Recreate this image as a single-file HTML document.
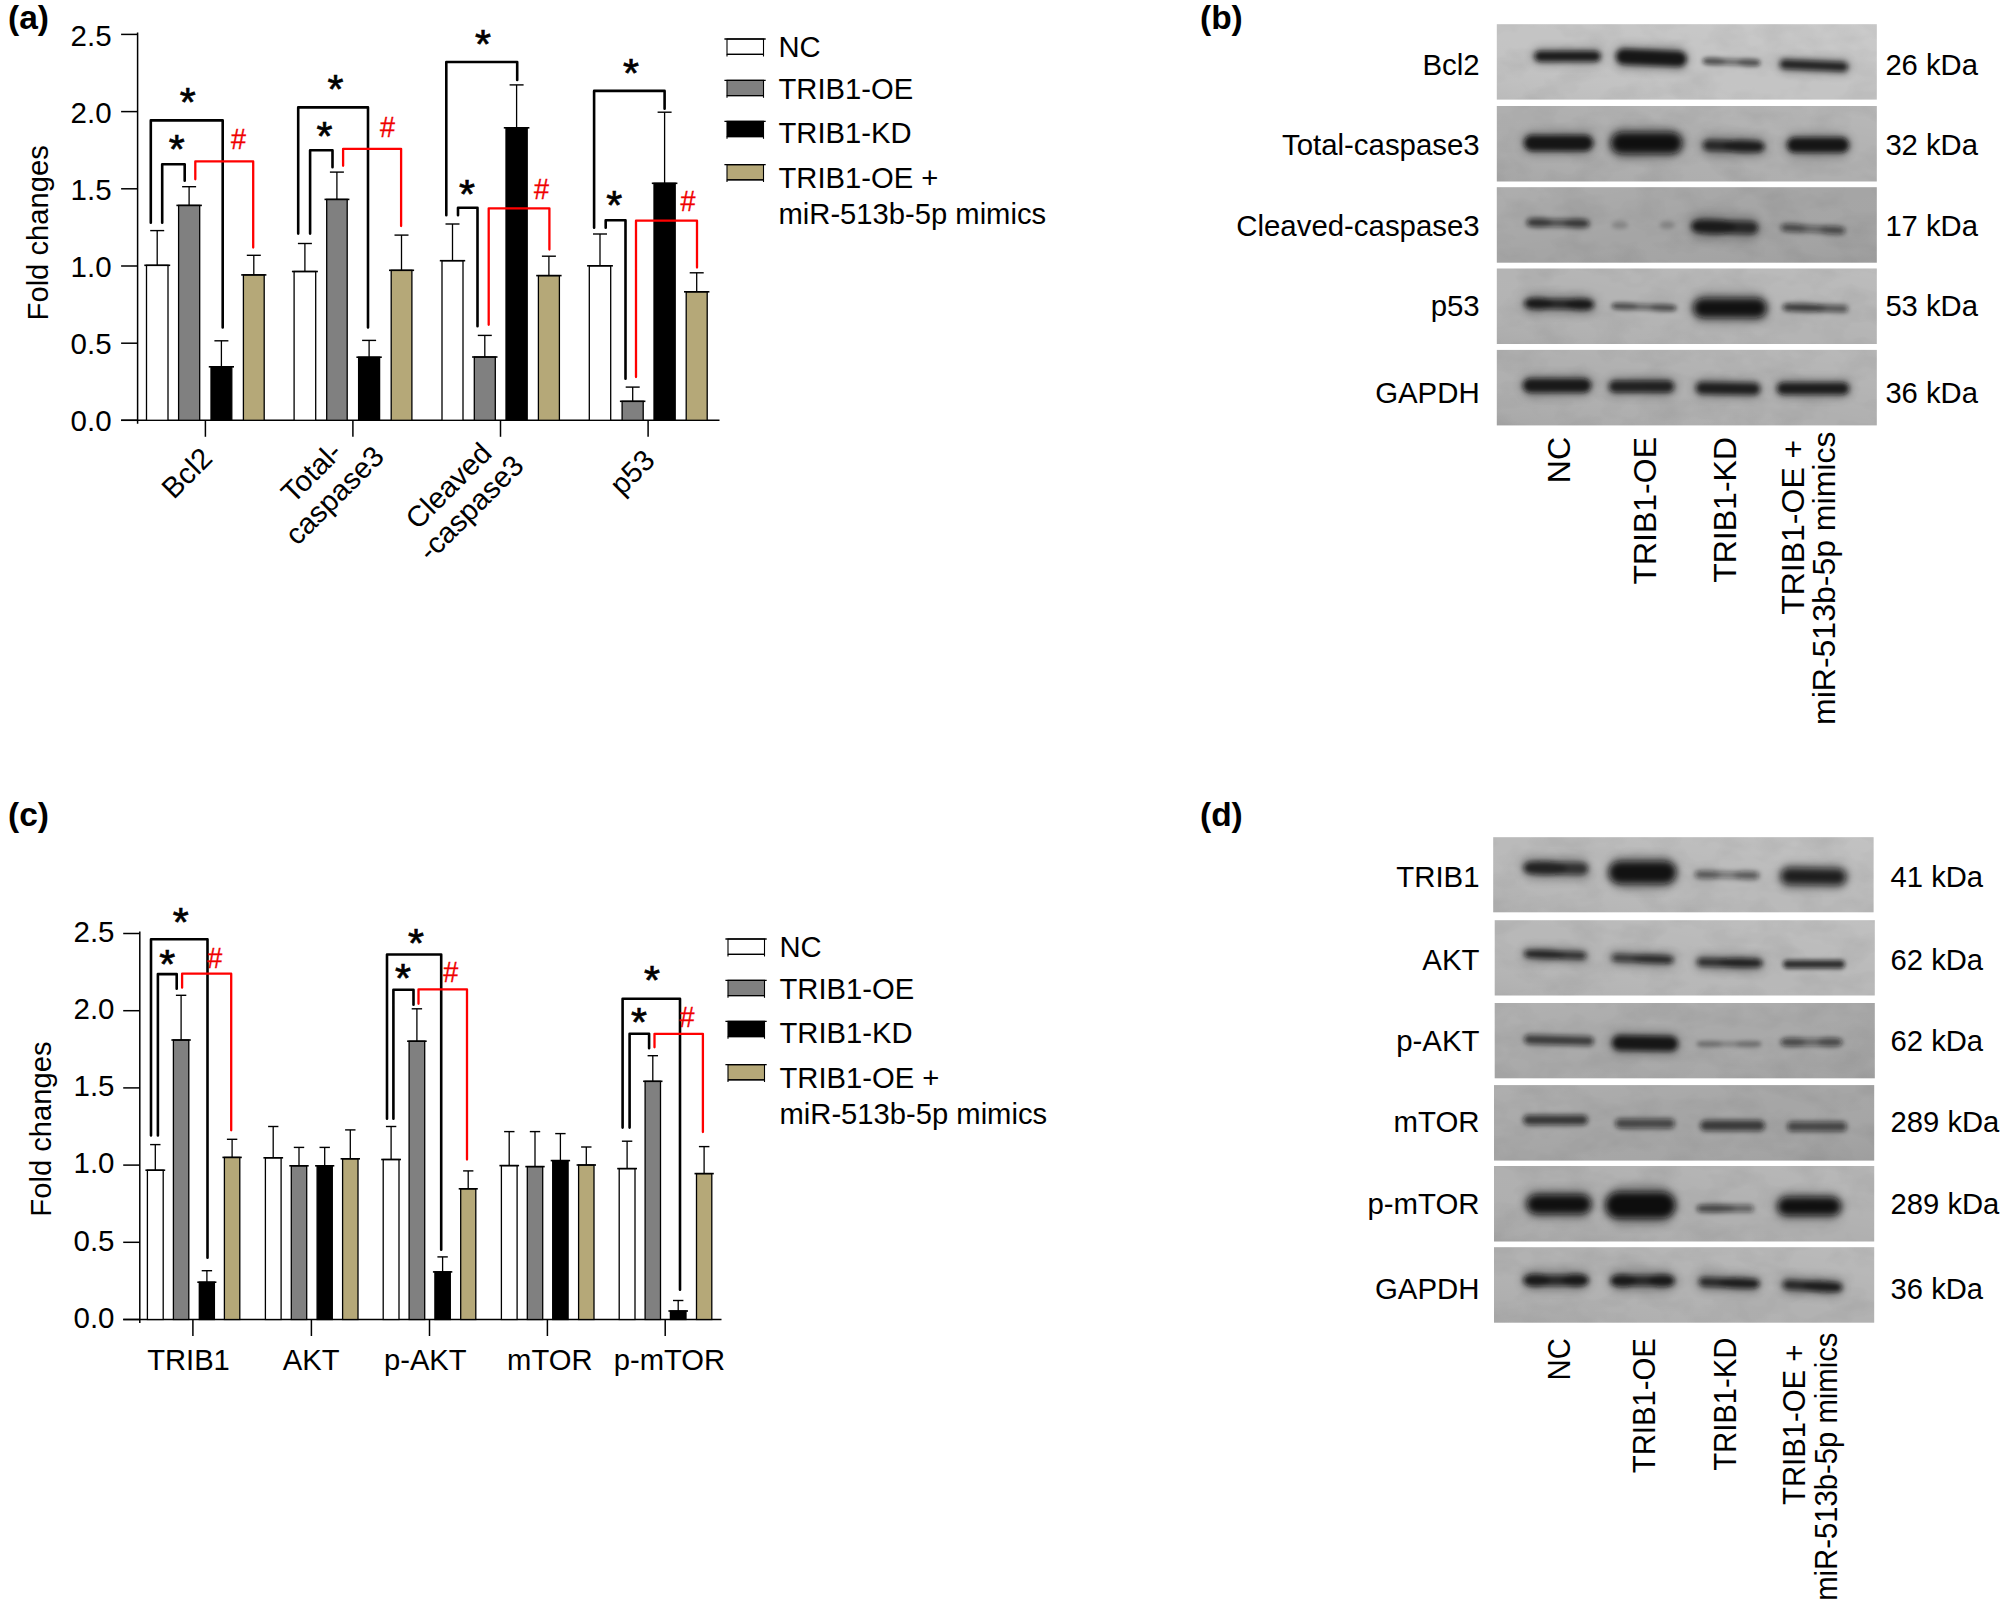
<!DOCTYPE html>
<html><head><meta charset="utf-8"><title>Figure</title>
<style>html,body{margin:0;padding:0;background:#fff}svg{display:block}</style></head>
<body>
<svg width="2003" height="1604" viewBox="0 0 2003 1604" style="font-family:&quot;Liberation Sans&quot;,sans-serif">
<defs>
<filter id="b1" x="-20%" y="-200%" width="140%" height="500%"><feGaussianBlur stdDeviation="2.3"/></filter>
<filter id="b2" x="-20%" y="-150%" width="140%" height="400%"><feGaussianBlur stdDeviation="2.9"/></filter>
<filter id="b3" x="-20%" y="-100%" width="140%" height="300%"><feGaussianBlur stdDeviation="3.5"/></filter>
<filter id="b4" x="-30%" y="-150%" width="160%" height="400%"><feGaussianBlur stdDeviation="4.6"/></filter>
<filter id="noise" x="0" y="0" width="100%" height="100%"><feTurbulence type="fractalNoise" baseFrequency="0.025 0.04" numOctaves="3" seed="7" result="n"/><feColorMatrix in="n" type="matrix" values="0 0 0 0 0  0 0 0 0 0  0 0 0 0 0  1.6 0 0 0 -0.62"/><feComposite in2="SourceGraphic" operator="in"/></filter>
<linearGradient id="gr" x1="0" y1="1" x2="1" y2="0"><stop offset="0" stop-color="#000" stop-opacity="0.05"/><stop offset="0.5" stop-color="#fff" stop-opacity="0"/><stop offset="1" stop-color="#fff" stop-opacity="0.12"/></linearGradient>
<linearGradient id="gl" x1="1" y1="1" x2="0" y2="0"><stop offset="0" stop-color="#000" stop-opacity="0.05"/><stop offset="0.5" stop-color="#fff" stop-opacity="0"/><stop offset="1" stop-color="#fff" stop-opacity="0.10"/></linearGradient>
</defs>
<rect width="2003" height="1604" fill="#fff"/>
<text x="8.0" y="28.8" font-size="33.5" text-anchor="start" fill="#000" font-weight="bold">(a)</text>
<text x="1200.0" y="29.0" font-size="33.5" text-anchor="start" fill="#000" font-weight="bold">(b)</text>
<text x="8.0" y="826.0" font-size="33.5" text-anchor="start" fill="#000" font-weight="bold">(c)</text>
<text x="1200.0" y="826.0" font-size="33.5" text-anchor="start" fill="#000" font-weight="bold">(d)</text>
<line x1="137.6" y1="32.4" x2="137.6" y2="423.8" stroke="#000" stroke-width="1.5" stroke-linecap="butt"/>
<line x1="121.1" y1="420.3" x2="719.5" y2="420.3" stroke="#000" stroke-width="1.5" stroke-linecap="butt"/>
<line x1="121.1" y1="34.4" x2="137.6" y2="34.4" stroke="#000" stroke-width="1.5" stroke-linecap="butt"/>
<text x="111.6" y="45.5" font-size="29.5" text-anchor="end" fill="#000" font-weight="normal">2.5</text>
<line x1="121.1" y1="111.6" x2="137.6" y2="111.6" stroke="#000" stroke-width="1.5" stroke-linecap="butt"/>
<text x="111.6" y="122.7" font-size="29.5" text-anchor="end" fill="#000" font-weight="normal">2.0</text>
<line x1="121.1" y1="188.8" x2="137.6" y2="188.8" stroke="#000" stroke-width="1.5" stroke-linecap="butt"/>
<text x="111.6" y="199.9" font-size="29.5" text-anchor="end" fill="#000" font-weight="normal">1.5</text>
<line x1="121.1" y1="266.0" x2="137.6" y2="266.0" stroke="#000" stroke-width="1.5" stroke-linecap="butt"/>
<text x="111.6" y="277.1" font-size="29.5" text-anchor="end" fill="#000" font-weight="normal">1.0</text>
<line x1="121.1" y1="343.2" x2="137.6" y2="343.2" stroke="#000" stroke-width="1.5" stroke-linecap="butt"/>
<text x="111.6" y="354.3" font-size="29.5" text-anchor="end" fill="#000" font-weight="normal">0.5</text>
<line x1="121.1" y1="420.3" x2="137.6" y2="420.3" stroke="#000" stroke-width="1.5" stroke-linecap="butt"/>
<text x="111.6" y="431.4" font-size="29.5" text-anchor="end" fill="#000" font-weight="normal">0.0</text>
<line x1="205.4" y1="420.3" x2="205.4" y2="436.8" stroke="#000" stroke-width="1.5" stroke-linecap="butt"/>
<line x1="352.9" y1="420.3" x2="352.9" y2="436.8" stroke="#000" stroke-width="1.5" stroke-linecap="butt"/>
<line x1="500.5" y1="420.3" x2="500.5" y2="436.8" stroke="#000" stroke-width="1.5" stroke-linecap="butt"/>
<line x1="648.1" y1="420.3" x2="648.1" y2="436.8" stroke="#000" stroke-width="1.5" stroke-linecap="butt"/>
<text x="48.0" y="232.8" font-size="29.2" text-anchor="middle" fill="#000" font-weight="normal" transform="rotate(-90 48.0 232.8)">Fold changes</text>
<line x1="157.2" y1="230.6" x2="157.2" y2="265.3" stroke="#000" stroke-width="1.3" stroke-linecap="butt"/>
<line x1="150.2" y1="230.6" x2="164.2" y2="230.6" stroke="#000" stroke-width="1.4" stroke-linecap="butt"/>
<rect x="146.5" y="265.3" width="21.5" height="155.0" fill="#ffffff" stroke="#000" stroke-width="1.3"/>
<line x1="144.3" y1="265.3" x2="170.2" y2="265.3" stroke="#000" stroke-width="1.6" stroke-linecap="butt"/>
<line x1="189.1" y1="186.7" x2="189.1" y2="205.4" stroke="#000" stroke-width="1.3" stroke-linecap="butt"/>
<line x1="182.1" y1="186.7" x2="196.1" y2="186.7" stroke="#000" stroke-width="1.4" stroke-linecap="butt"/>
<rect x="178.6" y="205.4" width="21.1" height="214.9" fill="#808080" stroke="#000" stroke-width="1.3"/>
<line x1="176.4" y1="205.4" x2="201.9" y2="205.4" stroke="#000" stroke-width="1.6" stroke-linecap="butt"/>
<line x1="221.4" y1="340.8" x2="221.4" y2="366.8" stroke="#000" stroke-width="1.3" stroke-linecap="butt"/>
<line x1="214.4" y1="340.8" x2="228.4" y2="340.8" stroke="#000" stroke-width="1.4" stroke-linecap="butt"/>
<rect x="211.0" y="366.8" width="20.8" height="53.5" fill="#000000" stroke="#000" stroke-width="1.3"/>
<line x1="208.8" y1="366.8" x2="234.0" y2="366.8" stroke="#000" stroke-width="1.6" stroke-linecap="butt"/>
<line x1="253.8" y1="255.3" x2="253.8" y2="274.9" stroke="#000" stroke-width="1.3" stroke-linecap="butt"/>
<line x1="246.8" y1="255.3" x2="260.8" y2="255.3" stroke="#000" stroke-width="1.4" stroke-linecap="butt"/>
<rect x="243.4" y="274.9" width="20.8" height="145.4" fill="#b5a878" stroke="#000" stroke-width="1.3"/>
<line x1="241.2" y1="274.9" x2="266.4" y2="274.9" stroke="#000" stroke-width="1.6" stroke-linecap="butt"/>
<line x1="304.9" y1="243.5" x2="304.9" y2="271.5" stroke="#000" stroke-width="1.3" stroke-linecap="butt"/>
<line x1="297.9" y1="243.5" x2="311.9" y2="243.5" stroke="#000" stroke-width="1.4" stroke-linecap="butt"/>
<rect x="294.1" y="271.5" width="21.6" height="148.8" fill="#ffffff" stroke="#000" stroke-width="1.3"/>
<line x1="291.9" y1="271.5" x2="317.9" y2="271.5" stroke="#000" stroke-width="1.6" stroke-linecap="butt"/>
<line x1="336.9" y1="172.1" x2="336.9" y2="199.4" stroke="#000" stroke-width="1.3" stroke-linecap="butt"/>
<line x1="329.9" y1="172.1" x2="343.9" y2="172.1" stroke="#000" stroke-width="1.4" stroke-linecap="butt"/>
<rect x="326.7" y="199.4" width="20.5" height="220.9" fill="#808080" stroke="#000" stroke-width="1.3"/>
<line x1="324.5" y1="199.4" x2="349.4" y2="199.4" stroke="#000" stroke-width="1.6" stroke-linecap="butt"/>
<line x1="369.1" y1="340.4" x2="369.1" y2="357.2" stroke="#000" stroke-width="1.3" stroke-linecap="butt"/>
<line x1="362.1" y1="340.4" x2="376.1" y2="340.4" stroke="#000" stroke-width="1.4" stroke-linecap="butt"/>
<rect x="358.6" y="357.2" width="21.0" height="63.1" fill="#000000" stroke="#000" stroke-width="1.3"/>
<line x1="356.4" y1="357.2" x2="381.8" y2="357.2" stroke="#000" stroke-width="1.6" stroke-linecap="butt"/>
<line x1="401.5" y1="235.1" x2="401.5" y2="270.3" stroke="#000" stroke-width="1.3" stroke-linecap="butt"/>
<line x1="394.5" y1="235.1" x2="408.5" y2="235.1" stroke="#000" stroke-width="1.4" stroke-linecap="butt"/>
<rect x="391.2" y="270.3" width="20.7" height="150.0" fill="#b5a878" stroke="#000" stroke-width="1.3"/>
<line x1="389.0" y1="270.3" x2="414.1" y2="270.3" stroke="#000" stroke-width="1.6" stroke-linecap="butt"/>
<line x1="452.5" y1="224.0" x2="452.5" y2="260.7" stroke="#000" stroke-width="1.3" stroke-linecap="butt"/>
<line x1="445.5" y1="224.0" x2="459.5" y2="224.0" stroke="#000" stroke-width="1.4" stroke-linecap="butt"/>
<rect x="442.0" y="260.7" width="21.0" height="159.6" fill="#ffffff" stroke="#000" stroke-width="1.3"/>
<line x1="439.8" y1="260.7" x2="465.2" y2="260.7" stroke="#000" stroke-width="1.6" stroke-linecap="butt"/>
<line x1="484.8" y1="335.4" x2="484.8" y2="357.0" stroke="#000" stroke-width="1.3" stroke-linecap="butt"/>
<line x1="477.8" y1="335.4" x2="491.8" y2="335.4" stroke="#000" stroke-width="1.4" stroke-linecap="butt"/>
<rect x="474.3" y="357.0" width="21.0" height="63.3" fill="#808080" stroke="#000" stroke-width="1.3"/>
<line x1="472.1" y1="357.0" x2="497.5" y2="357.0" stroke="#000" stroke-width="1.6" stroke-linecap="butt"/>
<line x1="516.6" y1="84.9" x2="516.6" y2="127.8" stroke="#000" stroke-width="1.3" stroke-linecap="butt"/>
<line x1="509.6" y1="84.9" x2="523.6" y2="84.9" stroke="#000" stroke-width="1.4" stroke-linecap="butt"/>
<rect x="506.0" y="127.8" width="21.2" height="292.5" fill="#000000" stroke="#000" stroke-width="1.3"/>
<line x1="503.8" y1="127.8" x2="529.4" y2="127.8" stroke="#000" stroke-width="1.6" stroke-linecap="butt"/>
<line x1="548.9" y1="256.2" x2="548.9" y2="275.6" stroke="#000" stroke-width="1.3" stroke-linecap="butt"/>
<line x1="541.9" y1="256.2" x2="555.9" y2="256.2" stroke="#000" stroke-width="1.4" stroke-linecap="butt"/>
<rect x="538.4" y="275.6" width="21.0" height="144.7" fill="#b5a878" stroke="#000" stroke-width="1.3"/>
<line x1="536.2" y1="275.6" x2="561.6" y2="275.6" stroke="#000" stroke-width="1.6" stroke-linecap="butt"/>
<line x1="600.0" y1="234.0" x2="600.0" y2="265.8" stroke="#000" stroke-width="1.3" stroke-linecap="butt"/>
<line x1="593.0" y1="234.0" x2="607.0" y2="234.0" stroke="#000" stroke-width="1.4" stroke-linecap="butt"/>
<rect x="589.3" y="265.8" width="21.4" height="154.5" fill="#ffffff" stroke="#000" stroke-width="1.3"/>
<line x1="587.1" y1="265.8" x2="612.9" y2="265.8" stroke="#000" stroke-width="1.6" stroke-linecap="butt"/>
<line x1="632.7" y1="387.1" x2="632.7" y2="401.3" stroke="#000" stroke-width="1.3" stroke-linecap="butt"/>
<line x1="625.7" y1="387.1" x2="639.7" y2="387.1" stroke="#000" stroke-width="1.4" stroke-linecap="butt"/>
<rect x="622.1" y="401.3" width="21.1" height="19.0" fill="#808080" stroke="#000" stroke-width="1.3"/>
<line x1="619.9" y1="401.3" x2="645.4" y2="401.3" stroke="#000" stroke-width="1.6" stroke-linecap="butt"/>
<line x1="664.6" y1="112.2" x2="664.6" y2="183.3" stroke="#000" stroke-width="1.3" stroke-linecap="butt"/>
<line x1="657.6" y1="112.2" x2="671.6" y2="112.2" stroke="#000" stroke-width="1.4" stroke-linecap="butt"/>
<rect x="654.0" y="183.3" width="21.2" height="237.0" fill="#000000" stroke="#000" stroke-width="1.3"/>
<line x1="651.8" y1="183.3" x2="677.4" y2="183.3" stroke="#000" stroke-width="1.6" stroke-linecap="butt"/>
<line x1="696.7" y1="272.8" x2="696.7" y2="291.8" stroke="#000" stroke-width="1.3" stroke-linecap="butt"/>
<line x1="689.7" y1="272.8" x2="703.7" y2="272.8" stroke="#000" stroke-width="1.4" stroke-linecap="butt"/>
<rect x="686.2" y="291.8" width="21.0" height="128.5" fill="#b5a878" stroke="#000" stroke-width="1.3"/>
<line x1="684.0" y1="291.8" x2="709.4" y2="291.8" stroke="#000" stroke-width="1.6" stroke-linecap="butt"/>
<path d="M150.8 222.7 V120.4 H222.7 V327.4" fill="none" stroke="#000" stroke-width="2.6" stroke-linejoin="round" stroke-linecap="round"/>
<path d="M162.2 222.7 V164.2 H184.7 V180.7" fill="none" stroke="#000" stroke-width="2.6" stroke-linejoin="round" stroke-linecap="round"/>
<path d="M195.3 179.3 V161.4 H253.2 V247.6" fill="none" stroke="#f00" stroke-width="2.3" stroke-linejoin="round" stroke-linecap="round"/>
<text x="187.7" y="115.9" font-size="41" text-anchor="middle" fill="#000" font-weight="normal" stroke="#000" stroke-width="0.7">*</text>
<text x="176.7" y="162.8" font-size="41" text-anchor="middle" fill="#000" font-weight="normal" stroke="#000" stroke-width="0.7">*</text>
<text font-size="30" text-anchor="middle" fill="#f00000" stroke="#f00000" stroke-width="0.35" transform="translate(238.6 149.4) scale(0.9,1)">#</text>
<path d="M298.2 233.6 V107.4 H368.0 V327.4" fill="none" stroke="#000" stroke-width="2.6" stroke-linejoin="round" stroke-linecap="round"/>
<path d="M310.1 233.6 V150.2 H332.5 V167.3" fill="none" stroke="#000" stroke-width="2.6" stroke-linejoin="round" stroke-linecap="round"/>
<path d="M343.1 165.8 V148.8 H401.1 V226.0" fill="none" stroke="#f00" stroke-width="2.3" stroke-linejoin="round" stroke-linecap="round"/>
<text x="335.5" y="102.5" font-size="41" text-anchor="middle" fill="#000" font-weight="normal" stroke="#000" stroke-width="0.7">*</text>
<text x="324.5" y="150.4" font-size="41" text-anchor="middle" fill="#000" font-weight="normal" stroke="#000" stroke-width="0.7">*</text>
<text font-size="30" text-anchor="middle" fill="#f00000" stroke="#f00000" stroke-width="0.35" transform="translate(387.4 137.0) scale(0.9,1)">#</text>
<path d="M446.3 215.3 V62.0 H517.2 V80.0" fill="none" stroke="#000" stroke-width="2.6" stroke-linejoin="round" stroke-linecap="round"/>
<path d="M458.0 215.3 V207.7 H477.5 V326.2" fill="none" stroke="#000" stroke-width="2.6" stroke-linejoin="round" stroke-linecap="round"/>
<path d="M488.7 324.8 V208.3 H549.4 V249.6" fill="none" stroke="#f00" stroke-width="2.3" stroke-linejoin="round" stroke-linecap="round"/>
<text x="483.0" y="57.6" font-size="41" text-anchor="middle" fill="#000" font-weight="normal" stroke="#000" stroke-width="0.7">*</text>
<text x="467.0" y="207.6" font-size="41" text-anchor="middle" fill="#000" font-weight="normal" stroke="#000" stroke-width="0.7">*</text>
<text font-size="30" text-anchor="middle" fill="#f00000" stroke="#f00000" stroke-width="0.35" transform="translate(541.4 198.9) scale(0.9,1)">#</text>
<path d="M594.1 227.7 V90.9 H664.6 V108.8" fill="none" stroke="#000" stroke-width="2.6" stroke-linejoin="round" stroke-linecap="round"/>
<path d="M605.7 227.7 V220.3 H625.5 V378.7" fill="none" stroke="#000" stroke-width="2.6" stroke-linejoin="round" stroke-linecap="round"/>
<path d="M636.0 377.1 V220.7 H697.0 V267.6" fill="none" stroke="#f00" stroke-width="2.3" stroke-linejoin="round" stroke-linecap="round"/>
<text x="631.0" y="86.6" font-size="41" text-anchor="middle" fill="#000" font-weight="normal" stroke="#000" stroke-width="0.7">*</text>
<text x="614.3" y="219.3" font-size="41" text-anchor="middle" fill="#000" font-weight="normal" stroke="#000" stroke-width="0.7">*</text>
<text font-size="30" text-anchor="middle" fill="#f00000" stroke="#f00000" stroke-width="0.35" transform="translate(688.0 210.9) scale(0.9,1)">#</text>
<text x="214.0" y="460.0" font-size="29.2" text-anchor="end" fill="#000" font-weight="normal" transform="rotate(-45 214.0 460.0)">Bcl2</text>
<text x="343.7" y="454.0" font-size="29.2" text-anchor="end" fill="#000" font-weight="normal" transform="rotate(-45 343.7 454.0)">Total-</text>
<text x="385.7" y="458.2" font-size="29.2" text-anchor="end" fill="#000" font-weight="normal" transform="rotate(-45 385.7 458.2)">caspase3</text>
<text x="493.5" y="455.0" font-size="29.2" text-anchor="end" fill="#000" font-weight="normal" transform="rotate(-45 493.5 455.0)">Cleaved</text>
<text x="525.5" y="467.4" font-size="29.2" text-anchor="end" fill="#000" font-weight="normal" transform="rotate(-45 525.5 467.4)">-caspase3</text>
<text x="656.5" y="462.0" font-size="29.2" text-anchor="end" fill="#000" font-weight="normal" transform="rotate(-45 656.5 462.0)">p53</text>
<rect x="727.0" y="39.0" width="36.5" height="15.3" fill="#ffffff" stroke="#000" stroke-width="1.1"/>
<line x1="724.4" y1="39.0" x2="765.7" y2="39.0" stroke="#000" stroke-width="1.3" stroke-linecap="butt"/>
<line x1="727.0" y1="54.3" x2="763.5" y2="54.3" stroke="#000" stroke-width="1.3" stroke-linecap="butt"/>
<line x1="727.0" y1="54.3" x2="727.0" y2="56.5" stroke="#000" stroke-width="1.1" stroke-linecap="butt"/>
<line x1="763.5" y1="54.3" x2="763.5" y2="56.5" stroke="#000" stroke-width="1.1" stroke-linecap="butt"/>
<rect x="727.0" y="80.3" width="36.5" height="15.3" fill="#808080" stroke="#000" stroke-width="1.1"/>
<line x1="724.4" y1="80.3" x2="765.7" y2="80.3" stroke="#000" stroke-width="1.3" stroke-linecap="butt"/>
<line x1="727.0" y1="95.6" x2="763.5" y2="95.6" stroke="#000" stroke-width="1.3" stroke-linecap="butt"/>
<line x1="727.0" y1="95.6" x2="727.0" y2="97.8" stroke="#000" stroke-width="1.1" stroke-linecap="butt"/>
<line x1="763.5" y1="95.6" x2="763.5" y2="97.8" stroke="#000" stroke-width="1.1" stroke-linecap="butt"/>
<rect x="727.0" y="121.3" width="36.5" height="15.3" fill="#000000" stroke="#000" stroke-width="1.1"/>
<line x1="724.4" y1="121.3" x2="765.7" y2="121.3" stroke="#000" stroke-width="1.3" stroke-linecap="butt"/>
<line x1="727.0" y1="136.6" x2="763.5" y2="136.6" stroke="#000" stroke-width="1.3" stroke-linecap="butt"/>
<line x1="727.0" y1="136.6" x2="727.0" y2="138.8" stroke="#000" stroke-width="1.1" stroke-linecap="butt"/>
<line x1="763.5" y1="136.6" x2="763.5" y2="138.8" stroke="#000" stroke-width="1.1" stroke-linecap="butt"/>
<rect x="727.0" y="164.7" width="36.5" height="15.1" fill="#b5a878" stroke="#000" stroke-width="1.1"/>
<line x1="724.4" y1="164.7" x2="765.7" y2="164.7" stroke="#000" stroke-width="1.3" stroke-linecap="butt"/>
<line x1="727.0" y1="179.8" x2="763.5" y2="179.8" stroke="#000" stroke-width="1.3" stroke-linecap="butt"/>
<line x1="727.0" y1="179.8" x2="727.0" y2="182.0" stroke="#000" stroke-width="1.1" stroke-linecap="butt"/>
<line x1="763.5" y1="179.8" x2="763.5" y2="182.0" stroke="#000" stroke-width="1.1" stroke-linecap="butt"/>
<text x="778.5" y="57.3" font-size="29.2" text-anchor="start" fill="#000" font-weight="normal">NC</text>
<text x="778.5" y="98.9" font-size="29.2" text-anchor="start" fill="#000" font-weight="normal">TRIB1-OE</text>
<text x="778.5" y="143.2" font-size="29.2" text-anchor="start" fill="#000" font-weight="normal">TRIB1-KD</text>
<text x="778.5" y="187.7" font-size="29.2" text-anchor="start" fill="#000" font-weight="normal">TRIB1-OE +</text>
<text x="778.5" y="224.3" font-size="29.2" text-anchor="start" fill="#000" font-weight="normal">miR-513b-5p mimics</text>
<line x1="139.8" y1="931.5" x2="139.8" y2="1323.0" stroke="#000" stroke-width="1.5" stroke-linecap="butt"/>
<line x1="123.2" y1="1319.5" x2="721.5" y2="1319.5" stroke="#000" stroke-width="1.5" stroke-linecap="butt"/>
<line x1="123.2" y1="933.5" x2="139.8" y2="933.5" stroke="#000" stroke-width="1.5" stroke-linecap="butt"/>
<text x="114.5" y="941.7" font-size="29.5" text-anchor="end" fill="#000" font-weight="normal">2.5</text>
<line x1="123.2" y1="1010.7" x2="139.8" y2="1010.7" stroke="#000" stroke-width="1.5" stroke-linecap="butt"/>
<text x="114.5" y="1018.9" font-size="29.5" text-anchor="end" fill="#000" font-weight="normal">2.0</text>
<line x1="123.2" y1="1087.9" x2="139.8" y2="1087.9" stroke="#000" stroke-width="1.5" stroke-linecap="butt"/>
<text x="114.5" y="1096.1" font-size="29.5" text-anchor="end" fill="#000" font-weight="normal">1.5</text>
<line x1="123.2" y1="1165.1" x2="139.8" y2="1165.1" stroke="#000" stroke-width="1.5" stroke-linecap="butt"/>
<text x="114.5" y="1173.3" font-size="29.5" text-anchor="end" fill="#000" font-weight="normal">1.0</text>
<line x1="123.2" y1="1242.3" x2="139.8" y2="1242.3" stroke="#000" stroke-width="1.5" stroke-linecap="butt"/>
<text x="114.5" y="1250.5" font-size="29.5" text-anchor="end" fill="#000" font-weight="normal">0.5</text>
<line x1="123.2" y1="1319.5" x2="139.8" y2="1319.5" stroke="#000" stroke-width="1.5" stroke-linecap="butt"/>
<text x="114.5" y="1327.7" font-size="29.5" text-anchor="end" fill="#000" font-weight="normal">0.0</text>
<line x1="192.9" y1="1319.5" x2="192.9" y2="1336.0" stroke="#000" stroke-width="1.5" stroke-linecap="butt"/>
<line x1="311.4" y1="1319.5" x2="311.4" y2="1336.0" stroke="#000" stroke-width="1.5" stroke-linecap="butt"/>
<line x1="429.5" y1="1319.5" x2="429.5" y2="1336.0" stroke="#000" stroke-width="1.5" stroke-linecap="butt"/>
<line x1="547.4" y1="1319.5" x2="547.4" y2="1336.0" stroke="#000" stroke-width="1.5" stroke-linecap="butt"/>
<line x1="665.2" y1="1319.5" x2="665.2" y2="1336.0" stroke="#000" stroke-width="1.5" stroke-linecap="butt"/>
<text x="51.0" y="1129.0" font-size="29.2" text-anchor="middle" fill="#000" font-weight="normal" transform="rotate(-90 51.0 1129.0)">Fold changes</text>
<line x1="155.3" y1="1144.6" x2="155.3" y2="1170.2" stroke="#000" stroke-width="1.3" stroke-linecap="butt"/>
<line x1="150.1" y1="1144.6" x2="160.5" y2="1144.6" stroke="#000" stroke-width="1.4" stroke-linecap="butt"/>
<rect x="147.4" y="1170.2" width="15.8" height="149.3" fill="#ffffff" stroke="#000" stroke-width="1.3"/>
<line x1="145.4" y1="1170.2" x2="165.2" y2="1170.2" stroke="#000" stroke-width="1.6" stroke-linecap="butt"/>
<line x1="181.1" y1="995.3" x2="181.1" y2="1040.0" stroke="#000" stroke-width="1.3" stroke-linecap="butt"/>
<line x1="175.9" y1="995.3" x2="186.3" y2="995.3" stroke="#000" stroke-width="1.4" stroke-linecap="butt"/>
<rect x="173.4" y="1040.0" width="15.4" height="279.5" fill="#808080" stroke="#000" stroke-width="1.3"/>
<line x1="171.4" y1="1040.0" x2="190.8" y2="1040.0" stroke="#000" stroke-width="1.6" stroke-linecap="butt"/>
<line x1="206.9" y1="1270.7" x2="206.9" y2="1282.2" stroke="#000" stroke-width="1.3" stroke-linecap="butt"/>
<line x1="201.7" y1="1270.7" x2="212.1" y2="1270.7" stroke="#000" stroke-width="1.4" stroke-linecap="butt"/>
<rect x="199.3" y="1282.2" width="15.1" height="37.3" fill="#000000" stroke="#000" stroke-width="1.3"/>
<line x1="197.3" y1="1282.2" x2="216.4" y2="1282.2" stroke="#000" stroke-width="1.6" stroke-linecap="butt"/>
<line x1="232.1" y1="1139.3" x2="232.1" y2="1157.4" stroke="#000" stroke-width="1.3" stroke-linecap="butt"/>
<line x1="226.9" y1="1139.3" x2="237.3" y2="1139.3" stroke="#000" stroke-width="1.4" stroke-linecap="butt"/>
<rect x="224.4" y="1157.4" width="15.4" height="162.1" fill="#b5a878" stroke="#000" stroke-width="1.3"/>
<line x1="222.4" y1="1157.4" x2="241.8" y2="1157.4" stroke="#000" stroke-width="1.6" stroke-linecap="butt"/>
<line x1="273.2" y1="1126.5" x2="273.2" y2="1157.8" stroke="#000" stroke-width="1.3" stroke-linecap="butt"/>
<line x1="268.1" y1="1126.5" x2="278.4" y2="1126.5" stroke="#000" stroke-width="1.4" stroke-linecap="butt"/>
<rect x="265.4" y="1157.8" width="15.7" height="161.7" fill="#ffffff" stroke="#000" stroke-width="1.3"/>
<line x1="263.4" y1="1157.8" x2="283.1" y2="1157.8" stroke="#000" stroke-width="1.6" stroke-linecap="butt"/>
<line x1="299.0" y1="1147.4" x2="299.0" y2="1165.8" stroke="#000" stroke-width="1.3" stroke-linecap="butt"/>
<line x1="293.8" y1="1147.4" x2="304.2" y2="1147.4" stroke="#000" stroke-width="1.4" stroke-linecap="butt"/>
<rect x="291.3" y="1165.8" width="15.4" height="153.7" fill="#808080" stroke="#000" stroke-width="1.3"/>
<line x1="289.3" y1="1165.8" x2="308.7" y2="1165.8" stroke="#000" stroke-width="1.6" stroke-linecap="butt"/>
<line x1="324.7" y1="1147.4" x2="324.7" y2="1165.8" stroke="#000" stroke-width="1.3" stroke-linecap="butt"/>
<line x1="319.5" y1="1147.4" x2="329.9" y2="1147.4" stroke="#000" stroke-width="1.4" stroke-linecap="butt"/>
<rect x="317.1" y="1165.8" width="15.2" height="153.7" fill="#000000" stroke="#000" stroke-width="1.3"/>
<line x1="315.1" y1="1165.8" x2="334.3" y2="1165.8" stroke="#000" stroke-width="1.6" stroke-linecap="butt"/>
<line x1="350.3" y1="1129.9" x2="350.3" y2="1158.8" stroke="#000" stroke-width="1.3" stroke-linecap="butt"/>
<line x1="345.1" y1="1129.9" x2="355.5" y2="1129.9" stroke="#000" stroke-width="1.4" stroke-linecap="butt"/>
<rect x="342.6" y="1158.8" width="15.4" height="160.7" fill="#b5a878" stroke="#000" stroke-width="1.3"/>
<line x1="340.6" y1="1158.8" x2="360.0" y2="1158.8" stroke="#000" stroke-width="1.6" stroke-linecap="butt"/>
<line x1="391.1" y1="1126.5" x2="391.1" y2="1159.5" stroke="#000" stroke-width="1.3" stroke-linecap="butt"/>
<line x1="385.9" y1="1126.5" x2="396.3" y2="1126.5" stroke="#000" stroke-width="1.4" stroke-linecap="butt"/>
<rect x="383.2" y="1159.5" width="15.8" height="160.0" fill="#ffffff" stroke="#000" stroke-width="1.3"/>
<line x1="381.2" y1="1159.5" x2="401.0" y2="1159.5" stroke="#000" stroke-width="1.6" stroke-linecap="butt"/>
<line x1="416.9" y1="1008.8" x2="416.9" y2="1041.2" stroke="#000" stroke-width="1.3" stroke-linecap="butt"/>
<line x1="411.7" y1="1008.8" x2="422.1" y2="1008.8" stroke="#000" stroke-width="1.4" stroke-linecap="butt"/>
<rect x="409.1" y="1041.2" width="15.6" height="278.3" fill="#808080" stroke="#000" stroke-width="1.3"/>
<line x1="407.1" y1="1041.2" x2="426.7" y2="1041.2" stroke="#000" stroke-width="1.6" stroke-linecap="butt"/>
<line x1="442.6" y1="1256.9" x2="442.6" y2="1271.9" stroke="#000" stroke-width="1.3" stroke-linecap="butt"/>
<line x1="437.4" y1="1256.9" x2="447.8" y2="1256.9" stroke="#000" stroke-width="1.4" stroke-linecap="butt"/>
<rect x="434.9" y="1271.9" width="15.4" height="47.6" fill="#000000" stroke="#000" stroke-width="1.3"/>
<line x1="432.9" y1="1271.9" x2="452.3" y2="1271.9" stroke="#000" stroke-width="1.6" stroke-linecap="butt"/>
<line x1="468.2" y1="1170.9" x2="468.2" y2="1188.8" stroke="#000" stroke-width="1.3" stroke-linecap="butt"/>
<line x1="463.1" y1="1170.9" x2="473.4" y2="1170.9" stroke="#000" stroke-width="1.4" stroke-linecap="butt"/>
<rect x="460.7" y="1188.8" width="15.1" height="130.7" fill="#b5a878" stroke="#000" stroke-width="1.3"/>
<line x1="458.7" y1="1188.8" x2="477.8" y2="1188.8" stroke="#000" stroke-width="1.6" stroke-linecap="butt"/>
<line x1="509.2" y1="1131.6" x2="509.2" y2="1165.6" stroke="#000" stroke-width="1.3" stroke-linecap="butt"/>
<line x1="504.1" y1="1131.6" x2="514.5" y2="1131.6" stroke="#000" stroke-width="1.4" stroke-linecap="butt"/>
<rect x="501.4" y="1165.6" width="15.7" height="153.9" fill="#ffffff" stroke="#000" stroke-width="1.3"/>
<line x1="499.4" y1="1165.6" x2="519.1" y2="1165.6" stroke="#000" stroke-width="1.6" stroke-linecap="butt"/>
<line x1="535.0" y1="1131.6" x2="535.0" y2="1166.6" stroke="#000" stroke-width="1.3" stroke-linecap="butt"/>
<line x1="529.8" y1="1131.6" x2="540.2" y2="1131.6" stroke="#000" stroke-width="1.4" stroke-linecap="butt"/>
<rect x="527.3" y="1166.6" width="15.4" height="152.9" fill="#808080" stroke="#000" stroke-width="1.3"/>
<line x1="525.3" y1="1166.6" x2="544.7" y2="1166.6" stroke="#000" stroke-width="1.6" stroke-linecap="butt"/>
<line x1="560.4" y1="1133.6" x2="560.4" y2="1160.6" stroke="#000" stroke-width="1.3" stroke-linecap="butt"/>
<line x1="555.2" y1="1133.6" x2="565.6" y2="1133.6" stroke="#000" stroke-width="1.4" stroke-linecap="butt"/>
<rect x="552.7" y="1160.6" width="15.4" height="158.9" fill="#000000" stroke="#000" stroke-width="1.3"/>
<line x1="550.7" y1="1160.6" x2="570.1" y2="1160.6" stroke="#000" stroke-width="1.6" stroke-linecap="butt"/>
<line x1="586.3" y1="1147.0" x2="586.3" y2="1165.0" stroke="#000" stroke-width="1.3" stroke-linecap="butt"/>
<line x1="581.1" y1="1147.0" x2="591.5" y2="1147.0" stroke="#000" stroke-width="1.4" stroke-linecap="butt"/>
<rect x="578.6" y="1165.0" width="15.4" height="154.5" fill="#b5a878" stroke="#000" stroke-width="1.3"/>
<line x1="576.6" y1="1165.0" x2="596.0" y2="1165.0" stroke="#000" stroke-width="1.6" stroke-linecap="butt"/>
<line x1="627.1" y1="1141.2" x2="627.1" y2="1168.6" stroke="#000" stroke-width="1.3" stroke-linecap="butt"/>
<line x1="621.9" y1="1141.2" x2="632.3" y2="1141.2" stroke="#000" stroke-width="1.4" stroke-linecap="butt"/>
<rect x="619.2" y="1168.6" width="15.8" height="150.9" fill="#ffffff" stroke="#000" stroke-width="1.3"/>
<line x1="617.2" y1="1168.6" x2="637.0" y2="1168.6" stroke="#000" stroke-width="1.6" stroke-linecap="butt"/>
<line x1="652.8" y1="1055.7" x2="652.8" y2="1081.3" stroke="#000" stroke-width="1.3" stroke-linecap="butt"/>
<line x1="647.6" y1="1055.7" x2="658.0" y2="1055.7" stroke="#000" stroke-width="1.4" stroke-linecap="butt"/>
<rect x="645.1" y="1081.3" width="15.4" height="238.2" fill="#808080" stroke="#000" stroke-width="1.3"/>
<line x1="643.1" y1="1081.3" x2="662.5" y2="1081.3" stroke="#000" stroke-width="1.6" stroke-linecap="butt"/>
<line x1="678.2" y1="1300.5" x2="678.2" y2="1311.0" stroke="#000" stroke-width="1.3" stroke-linecap="butt"/>
<line x1="673.0" y1="1300.5" x2="683.4" y2="1300.5" stroke="#000" stroke-width="1.4" stroke-linecap="butt"/>
<rect x="670.4" y="1311.0" width="15.6" height="8.5" fill="#000000" stroke="#000" stroke-width="1.3"/>
<line x1="668.4" y1="1311.0" x2="688.0" y2="1311.0" stroke="#000" stroke-width="1.6" stroke-linecap="butt"/>
<line x1="704.1" y1="1146.6" x2="704.1" y2="1173.6" stroke="#000" stroke-width="1.3" stroke-linecap="butt"/>
<line x1="698.9" y1="1146.6" x2="709.4" y2="1146.6" stroke="#000" stroke-width="1.4" stroke-linecap="butt"/>
<rect x="696.5" y="1173.6" width="15.3" height="145.9" fill="#b5a878" stroke="#000" stroke-width="1.3"/>
<line x1="694.5" y1="1173.6" x2="713.8" y2="1173.6" stroke="#000" stroke-width="1.6" stroke-linecap="butt"/>
<path d="M151.0 1135.5 V939.2 H207.5 V1257.7" fill="none" stroke="#000" stroke-width="2.6" stroke-linejoin="round" stroke-linecap="round"/>
<path d="M157.9 1135.5 V974.1 H176.7 V988.7" fill="none" stroke="#000" stroke-width="2.6" stroke-linejoin="round" stroke-linecap="round"/>
<path d="M182.1 987.7 V973.7 H231.2 V1130.3" fill="none" stroke="#f00" stroke-width="2.3" stroke-linejoin="round" stroke-linecap="round"/>
<text x="180.7" y="936.4" font-size="41" text-anchor="middle" fill="#000" font-weight="normal" stroke="#000" stroke-width="0.7">*</text>
<text x="167.3" y="978.3" font-size="41" text-anchor="middle" fill="#000" font-weight="normal" stroke="#000" stroke-width="0.7">*</text>
<text font-size="30" text-anchor="middle" fill="#f00000" stroke="#f00000" stroke-width="0.35" transform="translate(214.7 967.8) scale(0.9,1)">#</text>
<path d="M387.0 1118.8 V954.5 H441.2 V1249.7" fill="none" stroke="#000" stroke-width="2.6" stroke-linejoin="round" stroke-linecap="round"/>
<path d="M393.4 1118.8 V989.8 H413.5 V1004.8" fill="none" stroke="#000" stroke-width="2.6" stroke-linejoin="round" stroke-linecap="round"/>
<path d="M418.5 1003.8 V989.4 H467.0 V1159.5" fill="none" stroke="#f00" stroke-width="2.3" stroke-linejoin="round" stroke-linecap="round"/>
<text x="415.9" y="956.5" font-size="41" text-anchor="middle" fill="#000" font-weight="normal" stroke="#000" stroke-width="0.7">*</text>
<text x="402.9" y="991.5" font-size="41" text-anchor="middle" fill="#000" font-weight="normal" stroke="#000" stroke-width="0.7">*</text>
<text font-size="30" text-anchor="middle" fill="#f00000" stroke="#f00000" stroke-width="0.35" transform="translate(450.8 982.4) scale(0.9,1)">#</text>
<path d="M622.6 1127.6 V998.8 H680.0 V1289.8" fill="none" stroke="#000" stroke-width="2.6" stroke-linejoin="round" stroke-linecap="round"/>
<path d="M629.6 1127.6 V1033.8 H649.1 V1048.3" fill="none" stroke="#000" stroke-width="2.6" stroke-linejoin="round" stroke-linecap="round"/>
<path d="M654.5 1047.3 V1033.8 H702.9 V1132.0" fill="none" stroke="#f00" stroke-width="2.3" stroke-linejoin="round" stroke-linecap="round"/>
<text x="651.9" y="994.1" font-size="41" text-anchor="middle" fill="#000" font-weight="normal" stroke="#000" stroke-width="0.7">*</text>
<text x="638.9" y="1036.4" font-size="41" text-anchor="middle" fill="#000" font-weight="normal" stroke="#000" stroke-width="0.7">*</text>
<text font-size="30" text-anchor="middle" fill="#f00000" stroke="#f00000" stroke-width="0.35" transform="translate(686.9 1027.0) scale(0.9,1)">#</text>
<text x="188.5" y="1369.8" font-size="29.2" text-anchor="middle" fill="#000" font-weight="normal">TRIB1</text>
<text x="311.2" y="1369.8" font-size="29.2" text-anchor="middle" fill="#000" font-weight="normal">AKT</text>
<text x="425.3" y="1369.8" font-size="29.2" text-anchor="middle" fill="#000" font-weight="normal">p-AKT</text>
<text x="549.8" y="1369.8" font-size="29.2" text-anchor="middle" fill="#000" font-weight="normal">mTOR</text>
<text x="669.4" y="1369.8" font-size="29.2" text-anchor="middle" fill="#000" font-weight="normal">p-mTOR</text>
<rect x="728.0" y="939.0" width="36.5" height="15.3" fill="#ffffff" stroke="#000" stroke-width="1.1"/>
<line x1="725.4" y1="939.0" x2="766.7" y2="939.0" stroke="#000" stroke-width="1.3" stroke-linecap="butt"/>
<line x1="728.0" y1="954.3" x2="764.5" y2="954.3" stroke="#000" stroke-width="1.3" stroke-linecap="butt"/>
<line x1="728.0" y1="954.3" x2="728.0" y2="956.5" stroke="#000" stroke-width="1.1" stroke-linecap="butt"/>
<line x1="764.5" y1="954.3" x2="764.5" y2="956.5" stroke="#000" stroke-width="1.1" stroke-linecap="butt"/>
<rect x="728.0" y="980.3" width="36.5" height="15.3" fill="#808080" stroke="#000" stroke-width="1.1"/>
<line x1="725.4" y1="980.3" x2="766.7" y2="980.3" stroke="#000" stroke-width="1.3" stroke-linecap="butt"/>
<line x1="728.0" y1="995.6" x2="764.5" y2="995.6" stroke="#000" stroke-width="1.3" stroke-linecap="butt"/>
<line x1="728.0" y1="995.6" x2="728.0" y2="997.8" stroke="#000" stroke-width="1.1" stroke-linecap="butt"/>
<line x1="764.5" y1="995.6" x2="764.5" y2="997.8" stroke="#000" stroke-width="1.1" stroke-linecap="butt"/>
<rect x="728.0" y="1021.3" width="36.5" height="15.3" fill="#000000" stroke="#000" stroke-width="1.1"/>
<line x1="725.4" y1="1021.3" x2="766.7" y2="1021.3" stroke="#000" stroke-width="1.3" stroke-linecap="butt"/>
<line x1="728.0" y1="1036.6" x2="764.5" y2="1036.6" stroke="#000" stroke-width="1.3" stroke-linecap="butt"/>
<line x1="728.0" y1="1036.6" x2="728.0" y2="1038.8" stroke="#000" stroke-width="1.1" stroke-linecap="butt"/>
<line x1="764.5" y1="1036.6" x2="764.5" y2="1038.8" stroke="#000" stroke-width="1.1" stroke-linecap="butt"/>
<rect x="728.0" y="1064.7" width="36.5" height="15.1" fill="#b5a878" stroke="#000" stroke-width="1.1"/>
<line x1="725.4" y1="1064.7" x2="766.7" y2="1064.7" stroke="#000" stroke-width="1.3" stroke-linecap="butt"/>
<line x1="728.0" y1="1079.8" x2="764.5" y2="1079.8" stroke="#000" stroke-width="1.3" stroke-linecap="butt"/>
<line x1="728.0" y1="1079.8" x2="728.0" y2="1082.0" stroke="#000" stroke-width="1.1" stroke-linecap="butt"/>
<line x1="764.5" y1="1079.8" x2="764.5" y2="1082.0" stroke="#000" stroke-width="1.1" stroke-linecap="butt"/>
<text x="779.5" y="957.3" font-size="29.2" text-anchor="start" fill="#000" font-weight="normal">NC</text>
<text x="779.5" y="998.9" font-size="29.2" text-anchor="start" fill="#000" font-weight="normal">TRIB1-OE</text>
<text x="779.5" y="1043.2" font-size="29.2" text-anchor="start" fill="#000" font-weight="normal">TRIB1-KD</text>
<text x="779.5" y="1087.7" font-size="29.2" text-anchor="start" fill="#000" font-weight="normal">TRIB1-OE +</text>
<text x="779.5" y="1124.3" font-size="29.2" text-anchor="start" fill="#000" font-weight="normal">miR-513b-5p mimics</text>
<rect x="1496.8" y="24.2" width="380.0" height="75.4" fill="#c4c4c4"/>
<rect x="1496.8" y="24.2" width="380.0" height="75.4" fill="url(#gr)"/>
<rect x="1496.8" y="24.2" width="380.0" height="75.4" fill="#000" filter="url(#noise)" opacity="0.07"/>
<rect x="1532.5" y="48.2" width="70.1" height="15.8" rx="7.9" fill="#101010" opacity="0.3" filter="url(#b4)" transform="rotate(0 1567.5 56.1)"/>
<g filter="url(#b2)" transform="rotate(0 1567.5 56.1)" fill="#101010">
<rect x="1534.5" y="50.9" width="66.1" height="10.5" rx="5.2" opacity="0.90"/>
</g>
<rect x="1614.0" y="46.2" width="74.6" height="23.2" rx="11.6" fill="#101010" opacity="0.3" filter="url(#b4)" transform="rotate(2.5 1651.3 57.8)"/>
<g filter="url(#b2)" transform="rotate(2.5 1651.3 57.8)" fill="#101010">
<rect x="1616.0" y="50.0" width="70.6" height="15.5" rx="7.8" opacity="0.93"/>
</g>
<g filter="url(#b1)" transform="rotate(2 1731.5 62.0)" fill="#101010">
<rect x="1703.0" y="58.8" width="57.0" height="6.4" rx="3.2" opacity="0.50"/>
<ellipse cx="1713.8" cy="62.0" rx="11.8" ry="4.0" opacity="0.34"/>
<ellipse cx="1749.2" cy="62.0" rx="11.8" ry="4.0" opacity="0.34"/>
</g>
<rect x="1777.8" y="58.5" width="72.2" height="14.2" rx="7.1" fill="#101010" opacity="0.3" filter="url(#b4)" transform="rotate(2.5 1813.9 65.6)"/>
<g filter="url(#b2)" transform="rotate(2.5 1813.9 65.6)" fill="#101010">
<rect x="1779.8" y="60.8" width="68.2" height="9.5" rx="4.8" opacity="0.85"/>
</g>
<rect x="1496.8" y="106.0" width="380.0" height="75.5" fill="#afafaf"/>
<rect x="1496.8" y="106.0" width="380.0" height="75.5" fill="url(#gr)"/>
<rect x="1496.8" y="106.0" width="380.0" height="75.5" fill="#000" filter="url(#noise)" opacity="0.07"/>
<rect x="1522.0" y="131.2" width="73.0" height="23.5" rx="11.8" fill="#101010" opacity="0.3" filter="url(#b4)" transform="rotate(0 1558.5 143.0)"/>
<g filter="url(#b2)" transform="rotate(0 1558.5 143.0)" fill="#101010">
<rect x="1524.0" y="135.2" width="69.0" height="15.7" rx="7.8" opacity="0.93"/>
</g>
<rect x="1609.0" y="127.2" width="75.0" height="31.5" rx="15.8" fill="#101010" opacity="0.3" filter="url(#b4)" transform="rotate(0 1646.5 143.0)"/>
<g filter="url(#b3)" transform="rotate(0 1646.5 143.0)" fill="#101010">
<rect x="1611.0" y="132.5" width="71.0" height="21.0" rx="10.5" opacity="0.98"/>
</g>
<rect x="1701.0" y="135.9" width="65.0" height="20.2" rx="10.1" fill="#101010" opacity="0.3" filter="url(#b4)" transform="rotate(1.5 1733.5 146.0)"/>
<g filter="url(#b2)" transform="rotate(1.5 1733.5 146.0)" fill="#101010">
<rect x="1703.0" y="140.6" width="61.0" height="10.8" rx="5.4" opacity="0.78"/>
<ellipse cx="1744.2" cy="146.0" rx="20.8" ry="6.8" opacity="0.46"/>
</g>
<rect x="1785.0" y="133.8" width="66.0" height="22.5" rx="11.2" fill="#101010" opacity="0.3" filter="url(#b4)" transform="rotate(0 1818.0 145.0)"/>
<g filter="url(#b2)" transform="rotate(0 1818.0 145.0)" fill="#101010">
<rect x="1787.0" y="137.5" width="62.0" height="15.0" rx="7.5" opacity="0.93"/>
</g>
<rect x="1496.8" y="187.2" width="380.0" height="75.5" fill="#a5a5a5"/>
<rect x="1496.8" y="187.2" width="380.0" height="75.5" fill="url(#gl)"/>
<rect x="1496.8" y="187.2" width="380.0" height="75.5" fill="#000" filter="url(#noise)" opacity="0.07"/>
<g filter="url(#b2)" transform="rotate(1 1558.0 223.0)" fill="#101010">
<rect x="1527.0" y="219.0" width="62.0" height="8.0" rx="4.0" opacity="0.60"/>
<ellipse cx="1538.8" cy="223.0" rx="12.8" ry="5.0" opacity="0.41"/>
<ellipse cx="1577.2" cy="223.0" rx="12.8" ry="5.0" opacity="0.41"/>
</g>
<g filter="url(#b1)" transform="rotate(0 1642.5 225.0)" fill="#101010">
<ellipse cx="1619.8" cy="225.0" rx="8.5" ry="4.0" opacity="0.20"/>
<ellipse cx="1667.2" cy="225.0" rx="7.8" ry="4.0" opacity="0.20"/>
</g>
<rect x="1689.7" y="215.4" width="70.3" height="23.2" rx="11.6" fill="#101010" opacity="0.3" filter="url(#b4)" transform="rotate(1.5 1724.8 227.0)"/>
<g filter="url(#b2)" transform="rotate(1.5 1724.8 227.0)" fill="#101010">
<rect x="1691.7" y="220.8" width="66.3" height="12.4" rx="6.2" opacity="0.78"/>
<ellipse cx="1713.2" cy="227.0" rx="22.5" ry="7.8" opacity="0.46"/>
</g>
<g filter="url(#b2)" transform="rotate(3 1813.0 229.0)" fill="#101010">
<rect x="1781.0" y="225.4" width="64.0" height="7.2" rx="3.6" opacity="0.50"/>
<ellipse cx="1793.2" cy="229.0" rx="13.2" ry="4.5" opacity="0.34"/>
<ellipse cx="1832.8" cy="229.0" rx="13.2" ry="4.5" opacity="0.34"/>
</g>
<rect x="1496.8" y="268.5" width="380.0" height="75.5" fill="#b4b4b4"/>
<rect x="1496.8" y="268.5" width="380.0" height="75.5" fill="url(#gr)"/>
<rect x="1496.8" y="268.5" width="380.0" height="75.5" fill="#000" filter="url(#noise)" opacity="0.07"/>
<rect x="1523.0" y="294.6" width="72.3" height="18.8" rx="9.4" fill="#101010" opacity="0.3" filter="url(#b4)" transform="rotate(1 1559.2 304.0)"/>
<g filter="url(#b2)" transform="rotate(1 1559.2 304.0)" fill="#101010">
<rect x="1525.0" y="299.0" width="68.3" height="10.0" rx="5.0" opacity="0.80"/>
<ellipse cx="1538.1" cy="304.0" rx="14.1" ry="6.2" opacity="0.55"/>
<ellipse cx="1580.2" cy="304.0" rx="14.1" ry="6.2" opacity="0.55"/>
</g>
<g filter="url(#b1)" transform="rotate(2 1644.0 307.0)" fill="#101010">
<rect x="1612.0" y="304.0" width="64.0" height="6.0" rx="3.0" opacity="0.50"/>
<ellipse cx="1624.2" cy="307.0" rx="13.2" ry="3.8" opacity="0.34"/>
<ellipse cx="1663.8" cy="307.0" rx="13.2" ry="3.8" opacity="0.34"/>
</g>
<rect x="1691.5" y="293.8" width="77.0" height="28.5" rx="14.2" fill="#101010" opacity="0.3" filter="url(#b4)" transform="rotate(0 1730.0 308.0)"/>
<g filter="url(#b3)" transform="rotate(0 1730.0 308.0)" fill="#101010">
<rect x="1693.5" y="298.5" width="73.0" height="19.0" rx="9.5" opacity="0.97"/>
</g>
<g filter="url(#b2)" transform="rotate(1.5 1815.5 308.0)" fill="#101010">
<rect x="1783.0" y="304.4" width="65.0" height="7.2" rx="3.6" opacity="0.66"/>
<ellipse cx="1804.1" cy="308.0" rx="22.1" ry="4.5" opacity="0.39"/>
</g>
<rect x="1496.8" y="349.9" width="380.0" height="75.5" fill="#b0b0b0"/>
<rect x="1496.8" y="349.9" width="380.0" height="75.5" fill="url(#gr)"/>
<rect x="1496.8" y="349.9" width="380.0" height="75.5" fill="#000" filter="url(#noise)" opacity="0.07"/>
<rect x="1521.0" y="375.0" width="72.0" height="21.0" rx="10.5" fill="#101010" opacity="0.3" filter="url(#b4)" transform="rotate(0 1557.0 385.5)"/>
<g filter="url(#b2)" transform="rotate(0 1557.0 385.5)" fill="#101010">
<rect x="1523.0" y="378.5" width="68.0" height="14.0" rx="7.0" opacity="0.90"/>
</g>
<rect x="1607.0" y="377.5" width="69.0" height="18.0" rx="9.0" fill="#101010" opacity="0.3" filter="url(#b4)" transform="rotate(0 1641.5 386.5)"/>
<g filter="url(#b2)" transform="rotate(0 1641.5 386.5)" fill="#101010">
<rect x="1609.0" y="380.5" width="65.0" height="12.0" rx="6.0" opacity="0.84"/>
</g>
<rect x="1694.0" y="379.6" width="68.0" height="18.0" rx="9.0" fill="#101010" opacity="0.3" filter="url(#b4)" transform="rotate(1 1728.0 388.6)"/>
<g filter="url(#b2)" transform="rotate(1 1728.0 388.6)" fill="#101010">
<rect x="1696.0" y="382.6" width="64.0" height="12.0" rx="6.0" opacity="0.86"/>
</g>
<rect x="1775.0" y="379.6" width="76.0" height="18.0" rx="9.0" fill="#101010" opacity="0.3" filter="url(#b4)" transform="rotate(0 1813.0 388.6)"/>
<g filter="url(#b2)" transform="rotate(0 1813.0 388.6)" fill="#101010">
<rect x="1777.0" y="382.6" width="72.0" height="12.0" rx="6.0" opacity="0.88"/>
</g>
<text x="1479.7" y="75.0" font-size="29.4" text-anchor="end" fill="#000" font-weight="normal">Bcl2</text>
<text x="1479.7" y="155.1" font-size="29.4" text-anchor="end" fill="#000" font-weight="normal">Total-caspase3</text>
<text x="1479.7" y="236.1" font-size="29.4" text-anchor="end" fill="#000" font-weight="normal">Cleaved-caspase3</text>
<text x="1479.7" y="316.3" font-size="29.4" text-anchor="end" fill="#000" font-weight="normal">p53</text>
<text x="1479.7" y="402.8" font-size="29.4" text-anchor="end" fill="#000" font-weight="normal">GAPDH</text>
<text x="1885.4" y="75.2" font-size="29.2" text-anchor="start" fill="#000" font-weight="normal">26 kDa</text>
<text x="1885.4" y="155.1" font-size="29.2" text-anchor="start" fill="#000" font-weight="normal">32 kDa</text>
<text x="1885.4" y="236.1" font-size="29.2" text-anchor="start" fill="#000" font-weight="normal">17 kDa</text>
<text x="1885.4" y="316.3" font-size="29.2" text-anchor="start" fill="#000" font-weight="normal">53 kDa</text>
<text x="1885.4" y="402.8" font-size="29.2" text-anchor="start" fill="#000" font-weight="normal">36 kDa</text>
<text font-size="32" text-anchor="end" transform="translate(1570.2 437.0) rotate(-90) scale(1.0,1)">NC</text>
<text font-size="32" text-anchor="end" transform="translate(1656.1 437.0) rotate(-90) scale(1.0,1)">TRIB1-OE</text>
<text font-size="32" text-anchor="end" transform="translate(1736.2 437.0) rotate(-90) scale(1.0,1)">TRIB1-KD</text>
<text font-size="32" text-anchor="end" transform="translate(1804.0 439.7) rotate(-90) scale(1.0,1)">TRIB1-OE +</text>
<text font-size="32" text-anchor="end" transform="translate(1834.8 431.6) rotate(-90) scale(1.0,1)">miR-513b-5p mimics</text>
<rect x="1493.2" y="837.2" width="380.4" height="75.1" fill="#bababa"/>
<rect x="1493.2" y="837.2" width="380.4" height="75.1" fill="url(#gr)"/>
<rect x="1493.2" y="837.2" width="380.4" height="75.1" fill="#000" filter="url(#noise)" opacity="0.07"/>
<rect x="1522.0" y="857.0" width="68.0" height="22.5" rx="11.2" fill="#101010" opacity="0.3" filter="url(#b4)" transform="rotate(1 1556.0 868.2)"/>
<g filter="url(#b2)" transform="rotate(1 1556.0 868.2)" fill="#101010">
<rect x="1524.0" y="862.2" width="64.0" height="12.0" rx="6.0" opacity="0.71"/>
<ellipse cx="1544.8" cy="868.2" rx="21.8" ry="7.5" opacity="0.42"/>
</g>
<rect x="1607.0" y="855.9" width="71.0" height="33.0" rx="16.5" fill="#101010" opacity="0.3" filter="url(#b4)" transform="rotate(0 1642.5 872.4)"/>
<g filter="url(#b3)" transform="rotate(0 1642.5 872.4)" fill="#101010">
<rect x="1609.0" y="861.4" width="67.0" height="22.0" rx="11.0" opacity="0.96"/>
</g>
<g filter="url(#b2)" transform="rotate(1 1727.0 875.0)" fill="#101010">
<rect x="1695.0" y="871.4" width="64.0" height="7.2" rx="3.6" opacity="0.44"/>
<ellipse cx="1707.2" cy="875.0" rx="13.2" ry="4.5" opacity="0.30"/>
<ellipse cx="1746.8" cy="875.0" rx="13.2" ry="4.5" opacity="0.30"/>
</g>
<rect x="1779.0" y="864.6" width="69.0" height="24.0" rx="12.0" fill="#101010" opacity="0.3" filter="url(#b4)" transform="rotate(1 1813.5 876.6)"/>
<g filter="url(#b3)" transform="rotate(1 1813.5 876.6)" fill="#101010">
<rect x="1781.0" y="868.6" width="65.0" height="16.0" rx="8.0" opacity="0.88"/>
</g>
<rect x="1494.7" y="920.2" width="380.1" height="75.3" fill="#b8b8b8"/>
<rect x="1494.7" y="920.2" width="380.1" height="75.3" fill="url(#gr)"/>
<rect x="1494.7" y="920.2" width="380.1" height="75.3" fill="#000" filter="url(#noise)" opacity="0.07"/>
<rect x="1522.6" y="947.7" width="65.4" height="14.2" rx="7.1" fill="#101010" opacity="0.3" filter="url(#b4)" transform="rotate(2 1555.3 954.8)"/>
<g filter="url(#b2)" transform="rotate(2 1555.3 954.8)" fill="#101010">
<rect x="1524.6" y="951.0" width="61.4" height="7.6" rx="3.8" opacity="0.75"/>
<ellipse cx="1544.5" cy="954.8" rx="20.9" ry="4.8" opacity="0.44"/>
</g>
<rect x="1610.0" y="951.7" width="65.0" height="14.2" rx="7.1" fill="#101010" opacity="0.3" filter="url(#b4)" transform="rotate(2 1642.5 958.8)"/>
<g filter="url(#b2)" transform="rotate(2 1642.5 958.8)" fill="#101010">
<rect x="1612.0" y="955.0" width="61.0" height="7.6" rx="3.8" opacity="0.68"/>
<ellipse cx="1653.2" cy="958.8" rx="20.8" ry="4.8" opacity="0.40"/>
</g>
<rect x="1695.0" y="954.7" width="69.0" height="15.8" rx="7.9" fill="#101010" opacity="0.3" filter="url(#b4)" transform="rotate(1 1729.5 962.6)"/>
<g filter="url(#b2)" transform="rotate(1 1729.5 962.6)" fill="#101010">
<rect x="1697.0" y="958.4" width="65.0" height="8.4" rx="4.2" opacity="0.77"/>
<ellipse cx="1740.9" cy="962.6" rx="22.1" ry="5.2" opacity="0.45"/>
</g>
<g filter="url(#b1)" transform="rotate(0 1814.0 964.3)" fill="#101010">
<rect x="1783.0" y="960.0" width="62.0" height="8.5" rx="4.2" opacity="0.82"/>
</g>
<rect x="1494.7" y="1003.0" width="380.1" height="75.3" fill="#a9a9a9"/>
<rect x="1494.7" y="1003.0" width="380.1" height="75.3" fill="url(#gl)"/>
<rect x="1494.7" y="1003.0" width="380.1" height="75.3" fill="#000" filter="url(#noise)" opacity="0.07"/>
<g filter="url(#b2)" transform="rotate(1.5 1559.0 1040.2)" fill="#101010">
<rect x="1524.0" y="1035.5" width="70.0" height="9.5" rx="4.8" opacity="0.72"/>
</g>
<rect x="1610.0" y="1032.0" width="70.0" height="22.5" rx="11.2" fill="#101010" opacity="0.3" filter="url(#b4)" transform="rotate(1 1645.0 1043.3)"/>
<g filter="url(#b2)" transform="rotate(1 1645.0 1043.3)" fill="#101010">
<rect x="1612.0" y="1035.8" width="66.0" height="15.0" rx="7.5" opacity="0.92"/>
</g>
<g filter="url(#b1)" transform="rotate(0 1729.0 1044.0)" fill="#101010">
<rect x="1697.0" y="1041.2" width="64.0" height="5.6" rx="2.8" opacity="0.24"/>
<ellipse cx="1709.2" cy="1044.0" rx="13.2" ry="3.5" opacity="0.17"/>
<ellipse cx="1748.8" cy="1044.0" rx="13.2" ry="3.5" opacity="0.17"/>
</g>
<g filter="url(#b2)" transform="rotate(0 1811.5 1042.3)" fill="#101010">
<rect x="1781.0" y="1038.3" width="61.0" height="8.0" rx="4.0" opacity="0.48"/>
<ellipse cx="1792.6" cy="1042.3" rx="12.6" ry="5.0" opacity="0.33"/>
<ellipse cx="1830.4" cy="1042.3" rx="12.6" ry="5.0" opacity="0.33"/>
</g>
<rect x="1494.0" y="1085.1" width="380.2" height="75.5" fill="#a6a6a6"/>
<rect x="1494.0" y="1085.1" width="380.2" height="75.5" fill="url(#gl)"/>
<rect x="1494.0" y="1085.1" width="380.2" height="75.5" fill="#000" filter="url(#noise)" opacity="0.07"/>
<g filter="url(#b2)" transform="rotate(0 1555.5 1120.0)" fill="#101010">
<rect x="1523.0" y="1115.0" width="65.0" height="10.0" rx="5.0" opacity="0.75"/>
</g>
<g filter="url(#b2)" transform="rotate(0 1645.0 1123.5)" fill="#101010">
<rect x="1615.0" y="1118.5" width="60.0" height="10.0" rx="5.0" opacity="0.65"/>
</g>
<g filter="url(#b2)" transform="rotate(0 1732.5 1125.6)" fill="#101010">
<rect x="1700.0" y="1120.1" width="65.0" height="11.0" rx="5.5" opacity="0.72"/>
</g>
<g filter="url(#b2)" transform="rotate(0 1817.0 1126.6)" fill="#101010">
<rect x="1787.0" y="1121.6" width="60.0" height="10.0" rx="5.0" opacity="0.65"/>
</g>
<rect x="1494.0" y="1166.0" width="380.2" height="75.5" fill="#b0b0b0"/>
<rect x="1494.0" y="1166.0" width="380.2" height="75.5" fill="url(#gr)"/>
<rect x="1494.0" y="1166.0" width="380.2" height="75.5" fill="#000" filter="url(#noise)" opacity="0.07"/>
<rect x="1525.0" y="1190.0" width="68.0" height="28.5" rx="14.2" fill="#101010" opacity="0.3" filter="url(#b4)" transform="rotate(0 1559.0 1204.2)"/>
<g filter="url(#b3)" transform="rotate(0 1559.0 1204.2)" fill="#101010">
<rect x="1527.0" y="1194.7" width="64.0" height="19.0" rx="9.5" opacity="0.98"/>
</g>
<rect x="1603.8" y="1185.7" width="73.2" height="39.0" rx="19.5" fill="#101010" opacity="0.3" filter="url(#b4)" transform="rotate(0 1640.4 1205.2)"/>
<g filter="url(#b3)" transform="rotate(0 1640.4 1205.2)" fill="#101010">
<rect x="1605.8" y="1192.2" width="69.2" height="26.0" rx="13.0" opacity="1.00"/>
</g>
<g filter="url(#b2)" transform="rotate(0 1725.3 1208.4)" fill="#101010">
<rect x="1697.0" y="1204.8" width="56.7" height="7.2" rx="3.6" opacity="0.55"/>
<ellipse cx="1715.4" cy="1208.4" rx="19.4" ry="4.5" opacity="0.33"/>
</g>
<rect x="1775.7" y="1192.8" width="67.0" height="27.0" rx="13.5" fill="#101010" opacity="0.3" filter="url(#b4)" transform="rotate(0 1809.2 1206.3)"/>
<g filter="url(#b3)" transform="rotate(0 1809.2 1206.3)" fill="#101010">
<rect x="1777.7" y="1197.3" width="63.0" height="18.0" rx="9.0" opacity="0.98"/>
</g>
<rect x="1494.0" y="1247.2" width="380.2" height="75.5" fill="#b2b2b2"/>
<rect x="1494.0" y="1247.2" width="380.2" height="75.5" fill="url(#gr)"/>
<rect x="1494.0" y="1247.2" width="380.2" height="75.5" fill="#000" filter="url(#noise)" opacity="0.07"/>
<rect x="1522.0" y="1270.2" width="68.0" height="20.2" rx="10.1" fill="#101010" opacity="0.3" filter="url(#b4)" transform="rotate(0 1556.0 1280.3)"/>
<g filter="url(#b2)" transform="rotate(0 1556.0 1280.3)" fill="#101010">
<rect x="1524.0" y="1274.9" width="64.0" height="10.8" rx="5.4" opacity="0.78"/>
<ellipse cx="1536.2" cy="1280.3" rx="13.2" ry="6.8" opacity="0.53"/>
<ellipse cx="1575.8" cy="1280.3" rx="13.2" ry="6.8" opacity="0.53"/>
</g>
<rect x="1609.0" y="1270.6" width="67.0" height="20.2" rx="10.1" fill="#101010" opacity="0.3" filter="url(#b4)" transform="rotate(0 1642.5 1280.7)"/>
<g filter="url(#b2)" transform="rotate(0 1642.5 1280.7)" fill="#101010">
<rect x="1611.0" y="1275.3" width="63.0" height="10.8" rx="5.4" opacity="0.78"/>
<ellipse cx="1623.0" cy="1280.7" rx="13.0" ry="6.8" opacity="0.53"/>
<ellipse cx="1662.0" cy="1280.7" rx="13.0" ry="6.8" opacity="0.53"/>
</g>
<rect x="1697.0" y="1274.2" width="64.0" height="17.2" rx="8.6" fill="#101010" opacity="0.3" filter="url(#b4)" transform="rotate(2 1729.0 1282.8)"/>
<g filter="url(#b2)" transform="rotate(2 1729.0 1282.8)" fill="#101010">
<rect x="1699.0" y="1278.2" width="60.0" height="9.2" rx="4.6" opacity="0.79"/>
<ellipse cx="1739.5" cy="1282.8" rx="20.5" ry="5.8" opacity="0.47"/>
</g>
<rect x="1781.0" y="1277.0" width="62.8" height="18.0" rx="9.0" fill="#101010" opacity="0.3" filter="url(#b4)" transform="rotate(3 1812.4 1286.0)"/>
<g filter="url(#b2)" transform="rotate(3 1812.4 1286.0)" fill="#101010">
<rect x="1783.0" y="1281.2" width="58.8" height="9.6" rx="4.8" opacity="0.79"/>
<ellipse cx="1822.7" cy="1286.0" rx="20.1" ry="6.0" opacity="0.47"/>
</g>
<text x="1479.5" y="886.9" font-size="29.4" text-anchor="end" fill="#000" font-weight="normal">TRIB1</text>
<text x="1479.5" y="969.9" font-size="29.4" text-anchor="end" fill="#000" font-weight="normal">AKT</text>
<text x="1479.5" y="1051.3" font-size="29.4" text-anchor="end" fill="#000" font-weight="normal">p-AKT</text>
<text x="1479.5" y="1132.2" font-size="29.4" text-anchor="end" fill="#000" font-weight="normal">mTOR</text>
<text x="1479.5" y="1213.6" font-size="29.4" text-anchor="end" fill="#000" font-weight="normal">p-mTOR</text>
<text x="1479.5" y="1299.0" font-size="29.4" text-anchor="end" fill="#000" font-weight="normal">GAPDH</text>
<text x="1890.6" y="886.9" font-size="29.2" text-anchor="start" fill="#000" font-weight="normal">41 kDa</text>
<text x="1890.6" y="969.9" font-size="29.2" text-anchor="start" fill="#000" font-weight="normal">62 kDa</text>
<text x="1890.6" y="1051.3" font-size="29.2" text-anchor="start" fill="#000" font-weight="normal">62 kDa</text>
<text x="1890.6" y="1132.2" font-size="29.2" text-anchor="start" fill="#000" font-weight="normal">289 kDa</text>
<text x="1890.6" y="1213.6" font-size="29.2" text-anchor="start" fill="#000" font-weight="normal">289 kDa</text>
<text x="1890.6" y="1299.0" font-size="29.2" text-anchor="start" fill="#000" font-weight="normal">36 kDa</text>
<text font-size="32" text-anchor="end" transform="translate(1570.2 1338.2) rotate(-90) scale(0.915,1)">NC</text>
<text font-size="32" text-anchor="end" transform="translate(1655.3 1338.2) rotate(-90) scale(0.915,1)">TRIB1-OE</text>
<text font-size="32" text-anchor="end" transform="translate(1736.2 1337.5) rotate(-90) scale(0.915,1)">TRIB1-KD</text>
<text font-size="32" text-anchor="end" transform="translate(1805.0 1344.7) rotate(-90) scale(0.915,1)">TRIB1-OE +</text>
<text font-size="32" text-anchor="end" transform="translate(1836.5 1332.5) rotate(-90) scale(0.915,1)">miR-513b-5p mimics</text>
</svg>
</body></html>
